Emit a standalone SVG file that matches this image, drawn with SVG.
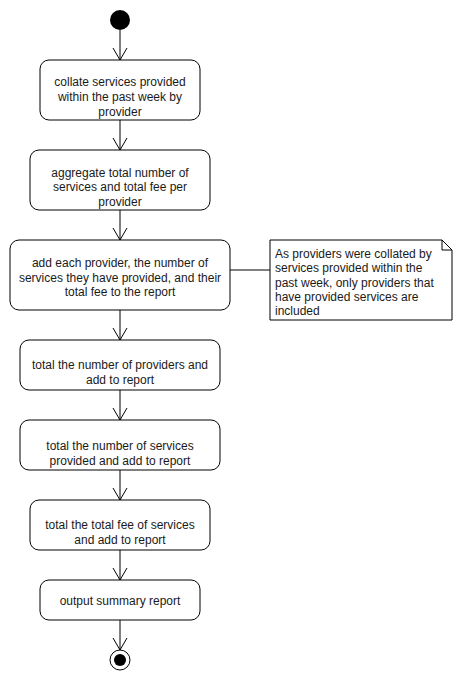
<svg xmlns="http://www.w3.org/2000/svg" width="460" height="680" viewBox="0 0 460 680">
<defs>
<marker id="arr" markerWidth="16" markerHeight="16" refX="13" refY="8" orient="auto" markerUnits="userSpaceOnUse" viewBox="0 0 16 16">
<path d="M1,1 L13,8 L1,15" fill="none" stroke="#000" stroke-width="1"/>
</marker>
</defs>
<style>
.box{fill:#fff;stroke:#000;stroke-width:1}
.t{font-family:"Liberation Sans",Arial,sans-serif;font-size:12px;fill:#1a1a1a;text-anchor:middle}
.nt{font-family:"Liberation Sans",Arial,sans-serif;font-size:12px;fill:#1a1a1a}
.c{stroke:#000;stroke-width:1;fill:none}
</style>
<rect width="460" height="680" fill="#fff"/>
<g id="connectors">
<path class="c" d="M120,30 V60" marker-end="url(#arr)"/>
<path class="c" d="M120,120 V150" marker-end="url(#arr)"/>
<path class="c" d="M120,210 V240" marker-end="url(#arr)"/>
<path class="c" d="M120,310 V340" marker-end="url(#arr)"/>
<path class="c" d="M120,390 V420" marker-end="url(#arr)"/>
<path class="c" d="M120,470 V500" marker-end="url(#arr)"/>
<path class="c" d="M120,550 V580" marker-end="url(#arr)"/>
<path class="c" d="M120,620 V650" marker-end="url(#arr)"/>
<path class="c" d="M230,270 H270"/>
</g>
<g id="start">
<circle cx="120" cy="20" r="10" fill="#000"/>
</g>
<g id="n1">
<rect class="box" x="40" y="60" width="160" height="60" rx="9"/>
<text class="t" x="120" y="86">collate services provided</text>
<text class="t" x="120" y="101">within the past week by</text>
<text class="t" x="120" y="116">provider</text>
</g>
<g id="n2">
<rect class="box" x="30" y="150" width="180" height="60" rx="9"/>
<text class="t" x="120" y="177">aggregate total number of</text>
<text class="t" x="120" y="191">services and total fee per</text>
<text class="t" x="120" y="206">provider</text>
</g>
<g id="n3">
<rect class="box" x="10" y="240" width="220" height="70" rx="9"/>
<text class="t" x="120" y="267">add each provider, the number of</text>
<text class="t" x="120" y="282">services they have provided, and their</text>
<text class="t" x="120" y="296">total fee to the report</text>
</g>
<g id="note">
<path class="box" d="M270,240 H442 L452,250 V320 H270 Z"/>
<path class="c" d="M442,240 V250 H452"/>
<text class="nt" x="275" y="258">As providers were collated by</text>
<text class="nt" x="275" y="272">services provided within the</text>
<text class="nt" x="275" y="287">past week, only providers that</text>
<text class="nt" x="275" y="301">have provided services are</text>
<text class="nt" x="275" y="315">included</text>
</g>
<g id="n4">
<rect class="box" x="20" y="340" width="200" height="50" rx="9"/>
<text class="t" x="120" y="369">total the number of providers and</text>
<text class="t" x="120" y="384">add to report</text>
</g>
<g id="n5">
<rect class="box" x="20" y="420" width="200" height="50" rx="9"/>
<text class="t" x="120" y="450">total the number of services</text>
<text class="t" x="120" y="465">provided and add to report</text>
</g>
<g id="n6">
<rect class="box" x="30" y="500" width="180" height="50" rx="9"/>
<text class="t" x="120" y="529">total the total fee of services</text>
<text class="t" x="120" y="544">and add to report</text>
</g>
<g id="n7">
<rect class="box" x="40" y="580" width="160" height="40" rx="9"/>
<text class="t" x="120" y="605">output summary report</text>
</g>
<g id="end">
<circle cx="120" cy="660" r="10" fill="#fff" stroke="#000" stroke-width="1"/>
<circle cx="120" cy="660" r="6" fill="#000"/>
</g>
</svg>
